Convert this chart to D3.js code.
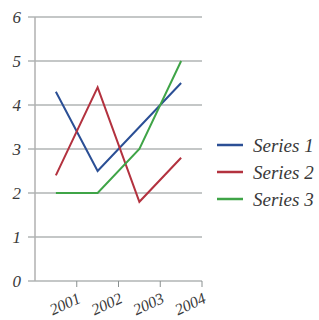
<!DOCTYPE html>
<html>
<head>
<meta charset="utf-8">
<script src="https://d3js.org/d3.v7.min.js"></script>
<style>
  body { margin: 0; background: #fff; }
  text { font-family: "Liberation Serif", "Times New Roman", serif; font-style: italic; fill: #3a3a3a; }
</style>
</head>
<body>
<div id="chart"></div>
<script>
    // chart data
    var years = ["2001", "2002", "2003", "2004"];
    var series1 = [4.3, 2.5, 3.5, 4.5];
    var series2 = [2.4, 4.4, 1.8, 2.8];
    var series3 = [2, 2, 3, 5];
    var seriesNames = ["Series 1", "Series 2", "Series 3"];
    var colors = ["#2b4f95", "#b3323f", "#3fa447"];
    var yTicks = [0, 1, 2, 3, 4, 5, 6];

    var allSeries = [series1, series2, series3];

    var margin = {top: 17, left: 35},
        width = 167,
        height = 264;

    var svg = d3.select("#chart").append("svg")
        .attr("width", 319)
        .attr("height", 320)
        .append("g")
        .attr("transform", "translate(" + margin.left + "," + margin.top + ")");

    let x = d3.scaleBand()
        .domain(years)
        .range([0, width]);

    let y = d3.scaleLinear()
        .domain([0, 6])
        .range([height, 0]);

    // gridlines
    svg.selectAll(".grid")
        .data(yTicks)
        .enter()
        .append("line")
        .attr("x1", -7)
        .attr("x2", width)
        .attr("y1", d => y(d))
        .attr("y2", d => y(d))
        .attr("stroke", "#8a9090")
        .attr("stroke-width", 1.2);

    // y axis line
    svg.append("line")
        .attr("x1", 0).attr("x2", 0)
        .attr("y1", 0).attr("y2", height)
        .attr("stroke", "#b0b0b0")
        .attr("stroke-width", 1.5);

    // y labels
    svg.selectAll(".ylab")
        .data(yTicks)
        .enter()
        .append("text")
        .attr("x", -14)
        .attr("y", d => y(d))
        .attr("dy", "0.35em")
        .attr("text-anchor", "end")
        .style("font-size", "17px")
        .text(d => d);

    // x ticks at band edges
    svg.selectAll(".xtick")
        .data(years)
        .enter()
        .append("line")
        .attr("x1", d => x(d) + x.bandwidth())
        .attr("x2", d => x(d) + x.bandwidth())
        .attr("y1", height)
        .attr("y2", height + 6)
        .attr("stroke", "#8a9090");

    // x labels, rotated
    svg.selectAll(".xlab")
        .data(years)
        .enter()
        .append("text")
        .attr("text-anchor", "end")
        .style("font-size", "16px")
        .attr("transform", d => "translate(" + (x(d) + x.bandwidth() + 5) + "," + (height + 21) + ") rotate(-25)")
        .text(d => d);

    // lines
    let line = d3.line()
        .x((d, i) => x(years[i]) + x.bandwidth() / 2)
        .y(d => y(d));

    svg.selectAll(".series")
        .data(allSeries)
        .enter()
        .append("path")
        .attr("d", d => line(d))
        .attr("fill", "none")
        .attr("stroke", (d, i) => colors[i])
        .attr("stroke-width", 2);

    // legend
    let legend = svg.selectAll(".legend")
        .data(seriesNames)
        .enter()
        .append("g")
        .attr("transform", (d, i) => "translate(182," + (128 + i * 27) + ")");

    legend.append("line")
        .attr("x1", 0).attr("x2", 26)
        .attr("stroke", (d, i) => colors[i])
        .attr("stroke-width", 2.5);

    legend.append("text")
        .attr("x", 36)
        .attr("dy", "0.35em")
        .style("font-size", "19px")
        .text(d => d);
</script>
</body>
</html>
